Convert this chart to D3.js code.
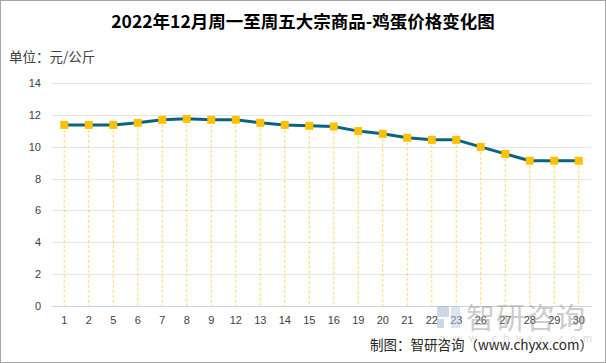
<!DOCTYPE html>
<html>
<head>
<meta charset="utf-8">
<script src="https://cdn.jsdelivr.net/npm/d3@7"></script>
<style>
  body { margin: 0; background: #fff; }
  svg { display: block; font-family: "Microsoft YaHei", "Noto Sans CJK SC", sans-serif; }
</style>
</head>
<body>
<div id="chart"></div>
<script>
(function(){
'use strict';

// days of December 2022 (trading days only)
var days = ['1', '2', '5', '6', '7', '8', '9', '12', '13', '14', '15', '16',
            '19', '20', '21', '22', '23', '26', '27', '28', '29', '30'];
// egg price, yuan per kg
var prices = [11.37, 11.37, 11.37, 11.5, 11.69, 11.75, 11.69, 11.69, 11.5, 11.37, 11.31, 11.27,
              10.98, 10.81, 10.56, 10.43, 10.43, 9.99, 9.55, 9.12, 9.12, 9.12];
var yTicks = [0, 2, 4, 6, 8, 10, 12, 14];

var W = 606, H = 363;
var margin = {left: 52, right: 15, top: 83, bottom: 57};

var svg = d3.select('#chart').append('svg')
    .attr('width', W)
    .attr('height', H);

svg.append('rect')
    .attr('x', 0.5).attr('y', 0.5)
    .attr('width', W - 1).attr('height', H - 1)
    .attr('fill', '#fff')
    .attr('stroke', '#a6a6a6');

var x = d3.scaleBand()
    .domain(days)
    .range([margin.left, W - margin.right]);

var y = d3.scaleLinear()
    .domain([0, 14])
    .range([H - margin.bottom, margin.top]);

// title
svg.append('text')
    .attr('x', W / 2).attr('y', 28)
    .attr('text-anchor', 'middle')
    .attr('font-size', 17.5)
    .attr('font-weight', 'bold')
    .attr('fill', '#000')
    .text('2022年12月周一至周五大宗商品-鸡蛋价格变化图');

svg.append('text')
    .attr('x', 9).attr('y', 62)
    .attr('font-size', 13.5)
    .attr('fill', '#404040')
    .text('单位：元/公斤');

// grid
svg.append('g')
    .selectAll('line')
    .data(yTicks.filter(function(d){ return d > 0; }))
    .enter().append('line')
    .attr('x1', margin.left).attr('x2', W - margin.right)
    .attr('y1', function(d){ return Math.round(y(d)) + 0.5; })
    .attr('y2', function(d){ return Math.round(y(d)) + 0.5; })
    .attr('stroke', '#e6e6e6');

// y axis labels
var yAxis = svg.append('g')
    .attr('transform', 'translate(' + (margin.left - 11) + ',0)')
    .call(d3.axisLeft(y).tickValues(yTicks).tickSize(0).tickPadding(0));
yAxis.select('.domain').remove();
yAxis.selectAll('text')
    .attr('font-size', 11)
    .attr('fill', '#404040')
    .attr('font-family', 'Liberation Sans, Arial, sans-serif');

// x axis
var xAxis = svg.append('g')
    .attr('transform', 'translate(0,' + y(0) + ')')
    .call(d3.axisBottom(x).tickSize(0).tickPadding(10));
xAxis.select('.domain')
    .attr('stroke', '#c9d1d9');
xAxis.selectAll('text')
    .attr('font-size', 11)
    .attr('fill', '#404040')
    .attr('font-family', 'Liberation Sans, Arial, sans-serif');

var cx = function(d, i){ return x(days[i]) + x.bandwidth() / 2; };

// watermark
var wm = svg.append('g').attr('opacity', 0.5);
wm.append('rect').attr('x', 437).attr('y', 306).attr('width', 12).attr('height', 11).attr('fill', '#9fb3cc');
wm.append('rect').attr('x', 437).attr('y', 319).attr('width', 7).attr('height', 9).attr('fill', '#9fb3cc');
wm.append('rect').attr('x', 451).attr('y', 306).attr('width', 9).attr('height', 22).attr('fill', '#b8cbe0');
wm.append('text')
    .attr('x', 466).attr('y', 329)
    .attr('font-size', 29)
    .attr('fill', '#9a9a9a')
    .attr('letter-spacing', 1)
    .text('智研咨询');
wm.append('text')
    .attr('x', 440).attr('y', 342)
    .attr('font-size', 10)
    .attr('fill', '#b5b5b5')
    .attr('letter-spacing', 6.4)
    .text('www.chyxx.com');

// drop lines
svg.append('g')
    .selectAll('line')
    .data(prices)
    .enter().append('line')
    .attr('x1', cx).attr('x2', cx)
    .attr('y1', function(d){ return y(d); })
    .attr('y2', y(0))
    .attr('stroke', '#ffc000')
    .attr('stroke-opacity', 0.6)
    .attr('stroke-width', 1)
    .attr('stroke-dasharray', '3,2');

var line = d3.line()
    .x(cx)
    .y(function(d){ return y(d); });

svg.append('path')
    .datum(prices)
    .attr('d', line)
    .attr('fill', 'none')
    .attr('stroke', '#0b6384')
    .attr('stroke-width', 3)
    .attr('stroke-linejoin', 'round');

svg.append('g')
    .selectAll('rect')
    .data(prices)
    .enter().append('rect')
    .attr('x', function(d, i){ return cx(d, i) - 4; })
    .attr('y', function(d){ return y(d) - 4; })
    .attr('width', 8).attr('height', 8)
    .attr('fill', '#ffc000');

// source
svg.append('text')
    .attr('x', W - 13).attr('y', 350)
    .attr('text-anchor', 'end')
    .attr('font-size', 13.5)
    .attr('fill', '#262626')
    .text('制图：智研咨询（www.chyxx.com）');

})();
</script>
</body>
</html>
